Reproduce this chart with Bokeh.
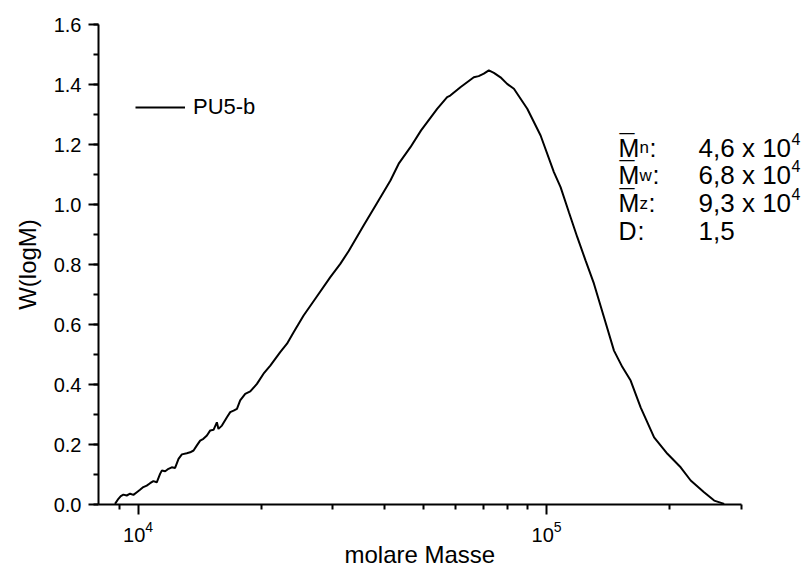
import math
from bokeh.plotting import figure
from bokeh.models import (Legend, LegendItem, Label, FixedTicker, SingleIntervalTicker, Title,
                          LogTickFormatter, PrintfTickFormatter, Range1d, ColumnDataSource)
from bokeh.embed import file_html
from bokeh.resources import INLINE

# ---- data (molar mass vs. W(logM)) ----
molar_mass = [8780, 8950, 9070, 9205, 9380, 9560, 9740, 9930, 10110, 10300, 10500, 10700,
              10900, 11110, 11320, 11430, 11650, 11870, 12090, 12320, 12560, 12800, 13160,
              13410, 13670, 13930, 14190, 14450, 14740, 15020, 15300, 15590, 15730, 16040,
              16500, 16810, 17130, 17460, 17780, 18290, 18820, 19540, 20280, 21070, 22280,
              23150, 24030, 25420, 27150, 29550, 31260, 32780, 35650, 38460, 41470, 43450,
              46420, 49290, 53960, 57090, 58100, 61520, 66350, 68200, 70200, 72220, 74300,
              77120, 80060, 83180, 89680, 96680, 104200, 108200, 113400, 118900, 124600,
              130600, 138200, 146200, 153300, 160600, 169900, 183300, 197600, 212900,
              225300, 242900, 257200, 272100]
w_logm = [0.002, 0.019, 0.028, 0.033, 0.030, 0.036, 0.032, 0.041, 0.049, 0.058, 0.063, 0.071,
          0.078, 0.074, 0.102, 0.113, 0.111, 0.119, 0.124, 0.122, 0.152, 0.167, 0.171,
          0.174, 0.180, 0.197, 0.213, 0.219, 0.230, 0.247, 0.249, 0.274, 0.252, 0.263,
          0.291, 0.308, 0.313, 0.319, 0.347, 0.369, 0.377, 0.402, 0.436, 0.463, 0.508,
          0.536, 0.574, 0.630, 0.686, 0.758, 0.802, 0.845, 0.930, 1.005, 1.080, 1.136,
          1.191, 1.247, 1.319, 1.358, 1.363, 1.391, 1.424, 1.428, 1.436, 1.447, 1.439,
          1.424, 1.402, 1.386, 1.319, 1.230, 1.108, 1.058, 0.974, 0.891, 0.813,
          0.736, 0.624, 0.513, 0.458, 0.413, 0.324, 0.224, 0.169, 0.124,
          0.080, 0.041, 0.013, 0.002]

series_name = "PU5-b"
x_label = "molare Masse"
y_label = "W(logM)"

x_axis_bounds = (8000, 300000)
y_axis_bounds = (0, 1.6)
x_major_ticks = [1e4, 1e5]
x_minor_ticks = [9000, 20000, 30000, 40000, 50000, 60000, 70000, 80000, 90000, 200000, 300000]

stat_symbols = ["M", "M", "M", "D"]
stat_subscripts = ["n", "w", "z", ""]
stat_mantissas = ["4,6 x 10", "6,8 x 10", "9,3 x 10", "1,5"]
stat_exponents = ["4", "4", "4", ""]

FONT = "Liberation Sans"

# layout: axis spans pixels 98..741; the frame is widened to the window edge (803)
# so that the statistics text to the right of the axis end is not clipped.
AX_LEFT, AX_RIGHT, CANVAS_W = 98, 741, 803
lo, hi = math.log10(x_axis_bounds[0]), math.log10(x_axis_bounds[1])
x_end = 10 ** (lo + (CANVAS_W - AX_LEFT) / (AX_RIGHT - AX_LEFT) * (hi - lo))

p = figure(width=CANVAS_W, height=568, x_axis_type="log",
           x_range=Range1d(x_axis_bounds[0], x_end), y_range=Range1d(*y_axis_bounds),
           output_backend="svg", toolbar_location=None,
           min_border_left=AX_LEFT, min_border_right=0, min_border_top=24, min_border_bottom=64)
p.background_fill_color = "white"
p.border_fill_color = "white"
p.outline_line_color = None
p.grid.visible = False

src = ColumnDataSource(dict(x=molar_mass, y=w_logm))
r = p.line("x", "y", source=src, line_color="black", line_width=2)

# axes
xa = p.xaxis[0]
xa.bounds = x_axis_bounds
xa.ticker = FixedTicker(ticks=x_major_ticks, minor_ticks=x_minor_ticks)
xa.formatter = LogTickFormatter()
ya = p.yaxis[0]
ya.ticker = SingleIntervalTicker(interval=0.2, num_minor_ticks=2)
ya.formatter = PrintfTickFormatter(format="%.1f")
for ax in (xa, ya):
    ax.axis_line_width = 2
    ax.axis_line_color = "black"
    ax.major_tick_line_width = 2
    ax.minor_tick_line_width = 2
    ax.major_tick_line_color = "black"
    ax.minor_tick_line_color = "black"
    ax.major_tick_in = 0
    ax.major_tick_out = 10
    ax.minor_tick_in = 0
    ax.minor_tick_out = 5
    ax.major_label_text_font = FONT
    ax.major_label_text_font_size = "20px"
    ax.major_label_text_color = "black"
    ax.axis_label_text_font = FONT
    ax.axis_label_text_font_size = "24px"
    ax.axis_label_text_font_style = "normal"
    ax.axis_label_text_color = "black"
ya.axis_label = y_label
xa.major_label_standoff = 6
ya.major_label_standoff = 7
ya.axis_label_standoff = 10

# x-axis title, placed under the middle of the axis span (not the widened frame)
x_title = Title(text=x_label, align="left", offset=246,
                text_font=FONT, text_font_size="24px", text_font_style="normal",
                text_color="black", standoff=-12)
p.add_layout(x_title, "below")

# legend
legend = Legend(items=[LegendItem(label=series_name, renderers=[r])],
                location=(37, 384), glyph_width=50, glyph_height=20, label_height=20,
                label_standoff=8, padding=0, margin=0, spacing=0,
                border_line_color=None, background_fill_alpha=0,
                label_text_font=FONT, label_text_font_size="22px", label_text_color="black")
p.add_layout(legend)

# statistics block: anchored in data coordinates, offsets in pixels
sym_x = 150000     # left edge of the symbol column
val_x = 235500     # left edge of the value column
row_y = [1.19, 1.097, 1.004, 0.911]
for i in range(4):
    y0 = row_y[i]
    common = dict(x_units="data", y_units="data", text_font=FONT, text_color="black",
                  text_baseline="alphabetic", text_align="left")
    p.add_layout(Label(x=sym_x, y=y0, text=stat_symbols[i], text_font_size="25px", **common))
    if stat_subscripts[i]:
        p.add_layout(Label(x=sym_x, y=y0, x_offset=1, y_offset=3, text="\u00af",
                           text_font_size="27px", **common))
        p.add_layout(Label(x=sym_x, y=y0, x_offset=21, text=stat_subscripts[i],
                           text_font_size="17px", **common))
        sub_w = {"n": 10, "w": 13, "z": 9}[stat_subscripts[i]]
        p.add_layout(Label(x=sym_x, y=y0, x_offset=21 + sub_w, text=":",
                           text_font_size="25px", **common))
    else:
        p.add_layout(Label(x=sym_x, y=y0, x_offset=19, text=":", text_font_size="25px", **common))
    p.add_layout(Label(x=val_x, y=y0, text=stat_mantissas[i], text_font_size="26px", **common))
    if stat_exponents[i]:
        p.add_layout(Label(x=val_x, y=y0, x_offset=93, y_offset=9, text=stat_exponents[i],
                           text_font_size="16px", **common))

open("out.html", "w").write(file_html(p, INLINE))
